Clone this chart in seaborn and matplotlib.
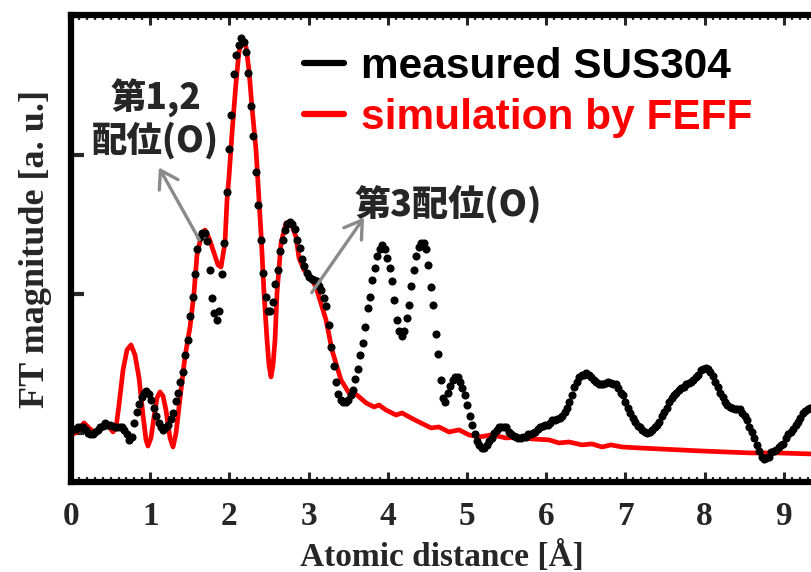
import numpy as np
import pandas as pd
import matplotlib
matplotlib.use("Agg")
import matplotlib.pyplot as plt
import seaborn as sns
from matplotlib.lines import Line2D
from matplotlib.ticker import MultipleLocator

# Fourier-transform magnitude of the measured EXAFS (uniform R grid)
R_STEP = 0.0307  # Å between samples
ft_measured = [
    0.02, 0.03, 0.03, 0.04, 0.04, 0.04, 0.02, 0.00, -0.01, -0.01,
    0.01, 0.02, 0.04, 0.05, 0.07, 0.06, 0.06, 0.05, 0.04, 0.04,
    0.04, 0.04, 0.02, -0.01, -0.05, -0.03, 0.07, 0.15, 0.21, 0.26,
    0.29, 0.30, 0.28, 0.24, 0.18, 0.12, 0.07, 0.04, 0.02, 0.04,
    0.06, 0.10, 0.14, 0.23, 0.29, 0.37, 0.44, 0.56, 0.67, 0.84,
    0.98, 1.14, 1.32, 1.41, 1.44, 1.44, 1.38, 1.17, 0.97, 0.86,
    0.81, 0.88, 1.14, 1.37, 1.73, 2.04, 2.29, 2.58, 2.72, 2.79,
    2.84, 2.81, 2.74, 2.59, 2.35, 2.14, 1.88, 1.64, 1.39, 1.15,
    0.98, 0.88, 0.88, 0.94, 1.07, 1.17, 1.31, 1.39, 1.46, 1.50,
    1.52, 1.50, 1.47, 1.39, 1.33, 1.25, 1.20, 1.15, 1.12, 1.11,
    1.10, 1.09, 1.06, 1.03, 0.97, 0.91, 0.78, 0.62, 0.48, 0.37,
    0.28, 0.24, 0.22, 0.22, 0.24, 0.27, 0.31, 0.39, 0.46, 0.56,
    0.65, 0.76, 0.90, 0.98, 1.10, 1.19, 1.27, 1.32, 1.35, 1.32,
    1.26, 1.19, 1.09, 0.96, 0.81, 0.73, 0.70, 0.73, 0.83, 0.92,
    1.06, 1.17, 1.27, 1.34, 1.37, 1.37, 1.32, 1.21, 1.05, 0.92,
    0.71, 0.57, 0.38, 0.25, 0.22, 0.29, 0.34, 0.38, 0.40, 0.40,
    0.37, 0.32, 0.27, 0.20, 0.12, 0.06, -0.01, -0.06, -0.09, -0.11,
    -0.11, -0.09, -0.06, -0.04, 0.00, 0.02, 0.04, 0.04, 0.04, 0.04,
    0.01, -0.01, -0.02, -0.03, -0.04, -0.04, -0.03, -0.03, -0.01, -0.01,
    0.00, 0.01, 0.03, 0.04, 0.05, 0.06, 0.06, 0.07, 0.09, 0.09,
    0.10, 0.11, 0.12, 0.15, 0.18, 0.22, 0.27, 0.33, 0.37, 0.40,
    0.42, 0.42, 0.43, 0.42, 0.40, 0.38, 0.37, 0.35, 0.35, 0.35,
    0.36, 0.37, 0.36, 0.35, 0.35, 0.32, 0.29, 0.27, 0.22, 0.18,
    0.14, 0.11, 0.08, 0.05, 0.04, 0.02, 0.01, 0.00, 0.01, 0.02,
    0.04, 0.06, 0.08, 0.12, 0.15, 0.18, 0.22, 0.25, 0.27, 0.29,
    0.31, 0.32, 0.33, 0.35, 0.36, 0.37, 0.38, 0.40, 0.42, 0.45,
    0.46, 0.47, 0.46, 0.44, 0.41, 0.37, 0.33, 0.29, 0.26, 0.22,
    0.20, 0.19, 0.18, 0.17, 0.17, 0.17, 0.14, 0.12, 0.09, 0.04,
    0.01, -0.04, -0.09, -0.13, -0.17, -0.19, -0.18, -0.17, -0.14, -0.13,
    -0.12, -0.10, -0.09, -0.08, -0.04, -0.01, 0.01, 0.03, 0.06, 0.08,
    0.11, 0.14, 0.16, 0.17, 0.18, 0.19,
]

# FEFF simulation
r_sim = [
    0.013, 0.088, 0.164, 0.227, 0.290, 0.354, 0.442, 0.492, 0.530, 0.568,
    0.606, 0.657, 0.707, 0.758, 0.808, 0.859, 0.909, 0.947, 0.972, 1.010,
    1.048, 1.086, 1.124, 1.162, 1.199, 1.250, 1.288, 1.326, 1.389, 1.439,
    1.503, 1.553, 1.591, 1.641, 1.692, 1.742, 1.806, 1.856, 1.894, 1.944,
    1.970, 1.995, 2.033, 2.083, 2.121, 2.159, 2.210, 2.247, 2.285, 2.336,
    2.374, 2.399, 2.437, 2.475, 2.500, 2.525, 2.551, 2.576, 2.601, 2.652,
    2.715, 2.778, 2.841, 2.879, 2.942, 3.005, 3.093, 3.220, 3.295, 3.409,
    3.510, 3.611, 3.725, 3.826, 3.889, 3.977, 4.104, 4.179, 4.293, 4.394,
    4.545, 4.646, 4.773, 4.899, 5.025, 5.152, 5.316, 5.492, 5.657, 5.821,
    6.035, 6.162, 6.288, 6.452, 6.578, 6.705, 6.818, 6.957, 7.172, 7.424,
    7.677, 7.929, 8.270, 8.598, 8.939, 9.343,
]
ft_sim = [
    -0.014, 0.014, 0.072, 0.036, 0.007, 0.029, 0.072, 0.036, 0.007, 0.036,
    0.201, 0.453, 0.597, 0.633, 0.561, 0.396, 0.129, -0.050, -0.094, -0.036,
    0.115, 0.252, 0.295, 0.266, 0.165, -0.036, -0.101, 0.000, 0.309, 0.547,
    0.763, 1.007, 1.281, 1.410, 1.460, 1.403, 1.295, 1.209, 1.194, 1.367,
    1.676, 1.842, 2.158, 2.518, 2.741, 2.827, 2.777, 2.612, 2.345, 2.036,
    1.676, 1.439, 1.007, 0.669, 0.489, 0.403, 0.489, 0.669, 1.007, 1.367,
    1.511, 1.511, 1.410, 1.259, 1.173, 1.137, 1.050, 0.813, 0.597, 0.381,
    0.288, 0.273, 0.216, 0.187, 0.201, 0.165, 0.129, 0.144, 0.108, 0.079,
    0.036, 0.043, 0.007, 0.022, -0.014, -0.029, -0.014, -0.036, -0.029, -0.043,
    -0.050, -0.072, -0.065, -0.086, -0.079, -0.101, -0.086, -0.101, -0.108, -0.115,
    -0.122, -0.129, -0.137, -0.144, -0.144, -0.151,
]

x_ticks = [0, 1, 2, 3, 4, 5, 6, 7, 8, 9]
y_ticks = [0, 1, 2, 3]
legend_labels = ["measured SUS304", "simulation by FEFF"]
series_colors = ["black", "red"]
shell_12_label = "第1,2\n配位(O)"
shell_3_label = "第3配位(O)"

measured = pd.DataFrame({
    "r": np.arange(len(ft_measured)) * R_STEP,
    "ft": ft_measured,
})
simulated = pd.DataFrame({"r": r_sim, "ft": ft_sim})

sns.set_style("ticks")
plt.rcParams["font.family"] = ["Liberation Serif", "DejaVu Serif"]

W, H = 812, 572
fig = plt.figure(figsize=(W / 100, H / 100), dpi=100)
ax = fig.add_axes([71 / W, 1 - 482 / H, 1 - 71 / W, (482 - 15) / H])

sns.lineplot(data=simulated, x="r", y="ft", color=series_colors[1], lw=3.4,
             sort=False, estimator=None, ax=ax, zorder=2)
sns.scatterplot(data=measured, x="r", y="ft", color=series_colors[0], s=34,
                linewidth=0, ax=ax, zorder=3)

ax.set_xlim(0, 741 / 79.2)
ax.set_ylim(-0.353, 3.007)

# frame
for side in ("left", "top", "bottom"):
    ax.spines[side].set_linewidth(4.5)
    ax.spines[side].set_color("black")
ax.spines["right"].set_visible(False)

ax.set_xticks(x_ticks)
ax.set_xticklabels([str(t) for t in x_ticks])
ax.xaxis.set_minor_locator(MultipleLocator(0.1))
ax.set_yticks(y_ticks)
ax.set_yticklabels([])
ax.tick_params(axis="x", which="major", direction="in", top=True, bottom=True,
               length=7, width=2.2, pad=14)
ax.tick_params(axis="x", which="minor", direction="in", top=True, bottom=True,
               length=3.5, width=1.6)
ax.tick_params(axis="y", which="major", direction="in", left=True, right=False,
               length=9, width=3)
for lab in ax.get_xticklabels():
    lab.set_fontsize(24)
    lab.set_fontweight("bold")

ax.set_xlabel("Atomic distance [Å]", fontsize=24, fontweight="bold", labelpad=6)
ax.set_ylabel("FT magnitude [a. u.]", fontsize=26, fontweight="bold", labelpad=10)

# legend
handles = [Line2D([], [], color=c, lw=4.5) for c in series_colors]
leg = ax.legend(handles, legend_labels, loc="upper left",
                bbox_to_anchor=(304 / W, 1 - 47 / H), bbox_transform=fig.transFigure,
                frameon=False, handlelength=0.95, handletextpad=0.4,
                labelspacing=0.26, borderpad=0, borderaxespad=0,
                prop={"family": ["Liberation Sans", "DejaVu Sans"],
                      "weight": "bold", "size": 30.5})
for txt, c in zip(leg.get_texts(), series_colors):
    txt.set_color(c)

# coordination-shell annotations
cjk = ["Noto Sans CJK JP", "DejaVu Sans"]
ax.text(1.07, 2.26, shell_12_label, family=cjk, fontweight="heavy", fontsize=25.5,
        ha="center", va="center", multialignment="center", linespacing=1.1)
ax.text(4.77, 1.65, shell_3_label, family=cjk, fontweight="heavy", fontsize=26,
        ha="center", va="center")
arrow = dict(arrowstyle="->,head_length=0.55,head_width=0.35", color="#8a8a8a",
             lw=2.4, mutation_scale=22, shrinkA=0, shrinkB=0)
ax.annotate("", xy=(1.11, 1.91), xytext=(1.62, 1.39), arrowprops=arrow)
ax.annotate("", xy=(3.70, 1.55), xytext=(3.04, 1.01), arrowprops=arrow)

fig.savefig("out.png", dpi=100)
